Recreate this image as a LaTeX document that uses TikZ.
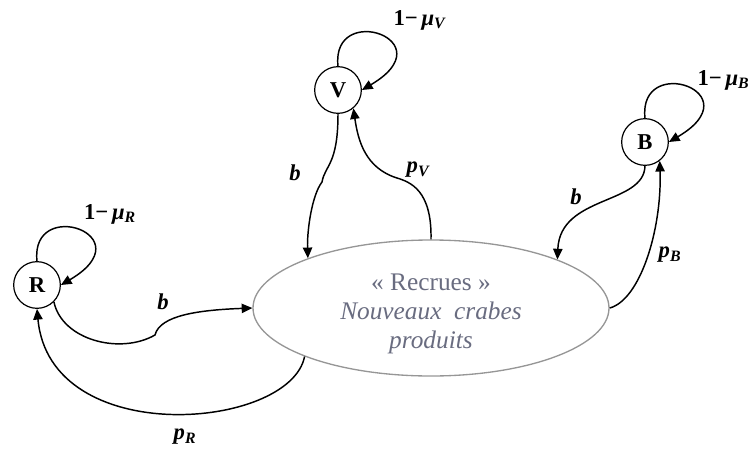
\documentclass[tikz,border=0pt]{standalone}
\usepackage{fontspec}
\setmainfont{Liberation Serif}
\usetikzlibrary{arrows.meta,shapes.geometric}
\definecolor{recruetext}{RGB}{105,108,128}
\definecolor{ellborder}{RGB}{150,150,150}
\begin{document}
\begin{tikzpicture}[x=0.75pt,y=-0.75pt,
  state/.style={circle,draw,line width=0.9pt,minimum size=35pt,inner sep=0pt,font=\fontsize{17}{20}\selectfont\bfseries},
  conn/.style={line width=1.1pt,-{Triangle[length=8pt,width=7pt]}},
  lbl/.style={font=\fontsize{17}{20}\selectfont\bfseries\itshape,inner sep=1pt},
  looplbl/.style={font=\fontsize{17}{20}\selectfont\bfseries,inner sep=1pt}]
\useasboundingbox (0,0) rectangle (751,450);
\node[state] (R) at (37,285) {R};
\node[state] (V) at (338,90) {V};
\node[state] (B) at (645,142) {B};
\node[ellipse,draw=ellborder,line width=1pt,minimum width=267pt,minimum height=102pt,inner sep=0pt] (E) at (431,308) {};
\node[align=center,text=recruetext,font=\fontsize{19}{22}\selectfont,inner sep=0pt] (Etext) at (431,314)
  {« Recrues »\\ \textit{Nouveaux\ \ crabes}\\ \textit{produits}};
% self loops
\draw[conn] (R.north) .. controls +(-7,-65) and +(85,-50) .. (R.east);
\draw[conn] (V.north) .. controls +(-7,-65) and +(85,-50) .. (V.east);
\draw[conn] (B.north) .. controls +(-7,-65) and +(85,-50) .. (B.east);
% R <-> E
\draw[conn] (R.-45) .. controls (62,340) and (120,355) .. (155,335)
            .. controls (160,315) and (200,310) .. (E.west);
\draw[conn] (E.201.6) .. controls (290,430) and (50,450) .. (R.south);
% V <-> E
\draw[conn] (V.south) .. controls (338,165) and (325,165) .. (322,182)
            .. controls (312,195) and (307,230) .. (E.158.4);
\draw[conn] (E.north) .. controls (432,190) and (410,182) .. (397,178)
            .. controls (365,168) and (358,140) .. (V.-50);
% B <-> E
\draw[conn] (B.south) .. controls (644,205) and (560,195) .. (E.21.6);
\draw[conn] (E.east) .. controls (640,300) and (662,230) .. (B.-52);
% labels
\node[looplbl] (lR) at (110,214) {1−\,\textit{μ}\textsubscript{\textit{R}}};
\node[looplbl] (lV) at (420,20) {1−\,\textit{μ}\textsubscript{\textit{V}}};
\node[looplbl,anchor=west] (lB) at (696,80) {1−\,\textit{μ}\textsubscript{\textit{B}}};
\node[lbl] (bR) at (163,302) {b};
\node[lbl] (pR) at (185,437) {p\textsubscript{R}};
\node[lbl] (bV) at (295,173) {b};
\node[lbl] (pV) at (418,170) {p\textsubscript{V}};
\node[lbl] (bB) at (576,197) {b};
\node[lbl] (pB) at (670,255) {p\textsubscript{B}};
\end{tikzpicture}
\end{document}
